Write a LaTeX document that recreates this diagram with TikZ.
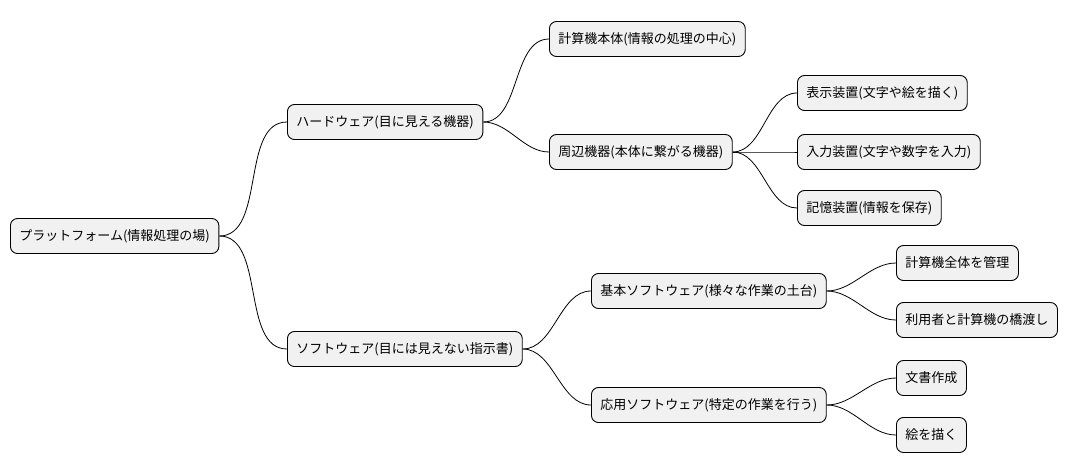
\documentclass[tikz,border=0pt]{standalone}
\usepackage{fontspec}
\newfontfamily\cjk{Noto Sans CJK JP}
\definecolor{boxfill}{HTML}{F1F1F1}
\tikzset{
  topic/.style={draw=black, line width=0.9pt, fill=boxfill, rounded corners=7pt,
    minimum height=35pt, inner xsep=9pt, font=\cjk\fontsize{13}{15}\selectfont},
  branch/.style={line width=0.8pt, out=0, in=180, looseness=0.9}
}
\begin{document}
\begin{tikzpicture}[x=1pt,y=-1pt]
\useasboundingbox (0,0) rectangle (1081,471);

% root
\node[topic, anchor=west] (root) at (10,236) {プラットフォーム(情報処理の場)};

% hardware side
\node[topic, anchor=west] (hw) at (287,122) {ハードウェア(目に見える機器)};
\node[topic, anchor=west] (body) at (549,39) {計算機本体(情報の処理の中心)};
\node[topic, anchor=west] (periph) at (549,152) {周辺機器(本体に繋がる機器)};
\node[topic, anchor=west] (disp) at (797,93) {表示装置(文字や絵を描く)};
\node[topic, anchor=west] (inp) at (797,152) {入力装置(文字や数字を入力)};
\node[topic, anchor=west] (mem) at (797,208) {記憶装置(情報を保存)};

% software side
\node[topic, anchor=west] (sw) at (287,349) {ソフトウェア(目には見えない指示書)};
\node[topic, anchor=west] (base) at (591,291) {基本ソフトウェア(様々な作業の土台)};
\node[topic, anchor=west] (app) at (591,405) {応用ソフトウェア(特定の作業を行う)};
\node[topic, anchor=west] (mgr) at (896,263) {計算機全体を管理};
\node[topic, anchor=west] (bridge) at (896,320) {利用者と計算機の橋渡し};
\node[topic, anchor=west] (doc) at (896,378) {文書作成};
\node[topic, anchor=west] (draw) at (896,435) {絵を描く};

% connectors
\foreach \a/\b in {root/hw, root/sw, hw/body, hw/periph, periph/disp, periph/inp,
  periph/mem, sw/base, sw/app, base/mgr, base/bridge, app/doc, app/draw}
  \draw[branch] (\a.east) to (\b.west);

\end{tikzpicture}
\end{document}
